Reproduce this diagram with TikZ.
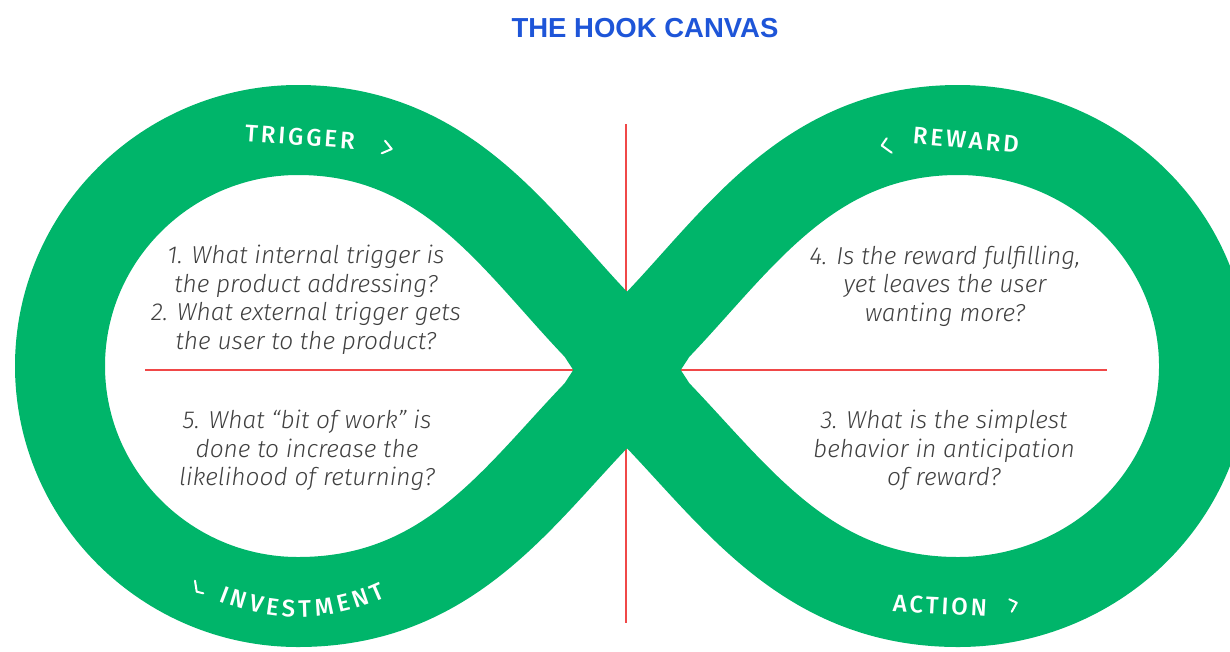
\documentclass[tikz,border=0pt]{standalone}
\usepackage{fontspec}
\setmainfont{Fira Sans}
\newfontfamily\qfont{Fira Sans Light Italic}
\newfontfamily\stagefam{Fira Sans Medium}[LetterSpace=12]
\newfontfamily\titlefam{Liberation Sans}
\usetikzlibrary{decorations.text}
\definecolor{hookgreen}{HTML}{00B56A}
\definecolor{hookblue}{HTML}{1E55D8}
\definecolor{hookred}{HTML}{F04848}
\definecolor{qgray}{HTML}{404040}
\newcommand\stagefont{\stagefam\fontsize{24}{28}\selectfont}
\begin{document}
\begin{tikzpicture}[x=1pt,y=-1pt,
  band/.style={draw=hookgreen, line width=90pt, line join=round},
  guide/.style={draw=hookred, line width=2.5pt},
  question/.style={align=center, text=qgray, font=\qfont\fontsize{24.5}{28.5}\selectfont, inner sep=0pt},
  stage/.style={text=white, font=\stagefont, inner sep=0pt},
  chev/.style={draw=white, line width=2pt, line cap=round, line join=round},
  title/.style={text=hookblue, font=\titlefam\bfseries\fontsize{27.5}{30}\selectfont, inner sep=0pt}
]
\useasboundingbox (0,0) rectangle (1230,651);
\clip (0,0) rectangle (1230,651);

% guide lines
\coordinate (vtop) at (626,124); \coordinate (vbot) at (626,623);
\coordinate (hl) at (145,370); \coordinate (hr) at (1107,370);
\draw[guide] (vtop) -- (vbot);
\draw[guide] (hl) -- (hr);

% infinity band
\coordinate (PUL) at (600,328.6); \coordinate (PLL) at (600,411.4);
\coordinate (PUR) at (654,328.6); \coordinate (PLR) at (654,411.4);
\coordinate (T1) at (298,130); \coordinate (L1) at (60,366); \coordinate (B1) at (298,602);
\coordinate (T2) at (958,130); \coordinate (R2) at (1204,366); \coordinate (B2) at (958,602);
\draw[band] (PLR) -- (PUL)
  .. controls (516.6,242.3) and (448,130) .. (T1)
  .. controls (167,130) and (60,236) .. (L1)
  .. controls (60,496) and (167,602) .. (B1)
  .. controls (448,602) and (516.6,497.7) .. (PLL) -- (PUR)
  .. controls (737.4,242.3) and (808,130) .. (T2)
  .. controls (1094,130) and (1204,236) .. (R2)
  .. controls (1204,496) and (1094,602) .. (B2)
  .. controls (808,602) and (737.4,497.7) .. cycle;

% title
\node[title] (title) at (645,28) {THE HOOK CANVAS};

% questions
\node[question] (q12) at (306,300) {1. What internal trigger is\\the product addressing?\\2. What external trigger gets\\the user to the product?};
\node[question] (q4) at (945,286) {4. Is the reward fulfilling,\\yet leaves the user\\wanting more?};
\node[question] (q5) at (307,450.5) {5. What “bit of work” is\\done to increase the\\likelihood of returning?};
\node[question] (q3) at (944,450.5) {3. What is the simplest\\behavior in anticipation\\of reward?};

% stage labels
\node[stage, rotate=-4] (trigger) at (300,137) {TRIGGER};
\node[stage, rotate=-5] (reward) at (966,140) {REWARD};
\node[stage, rotate=-3] (action) at (940,606) {ACTION};
\path[decorate, decoration={text effects along path, text={INVESTMENT},
    text effects/.cd, text along path, fit text to path,
    characters={text=white, font=\stagefont}}]
  (219,601) .. controls (274,623) and (330,623) .. (386,597);

% chevrons
\coordinate (ct1) at (385,140.7); \coordinate (ct2) at (391.7,149); \coordinate (ct3) at (381.7,153.3);
\draw[chev] (ct1) -- (ct2) -- (ct3);
\coordinate (cr1) at (886.7,138.3); \coordinate (cr2) at (881.7,145.5); \coordinate (cr3) at (891.7,152.7);
\draw[chev] (cr1) -- (cr2) -- (cr3);
\coordinate (ci1) at (195,580.7); \coordinate (ci2) at (196.7,591.7); \coordinate (ci3) at (203.3,593.3);
\draw[chev] (ci1) -- (ci2) -- (ci3);
\coordinate (ca1) at (1009.3,599.3); \coordinate (ca2) at (1016.7,602.7); \coordinate (ca3) at (1011.7,611.7);
\draw[chev] (ca1) -- (ca2) -- (ca3);
\end{tikzpicture}
\end{document}
